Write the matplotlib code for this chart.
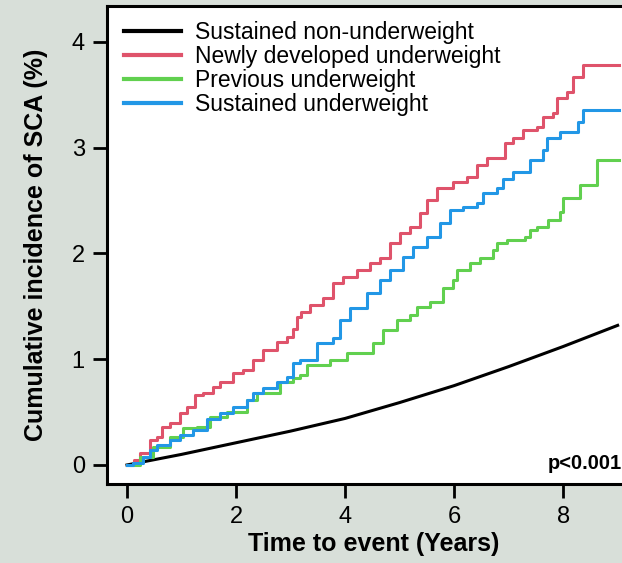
import matplotlib
matplotlib.use("Agg")
import matplotlib.pyplot as plt

plt.rcParams['font.family'] = ['Liberation Sans', 'DejaVu Sans']

# ## Data (years, cumulative incidence %)
labels = ['Sustained non-underweight', 'Newly developed underweight',
          'Previous underweight', 'Sustained underweight']
colors = ['black', '#DF536B', '#61D04F', '#2297E6']

black_t = [0, 1, 2, 3, 4, 5, 6, 7, 8, 8.5, 9.0]
black_y = [0, 0.1, 0.21, 0.32, 0.44, 0.59, 0.75, 0.93, 1.12, 1.22, 1.32]

red_t = [0, 0.12, 0.24, 0.42, 0.55, 0.64, 0.79, 0.97, 1.1, 1.25,
         1.39, 1.58, 1.71, 1.94, 2.13, 2.31, 2.5, 2.75, 2.94, 3.05,
         3.12, 3.2, 3.36, 3.6, 3.78, 3.96, 4.22, 4.46, 4.64, 4.83,
         5.01, 5.19, 5.38, 5.5, 5.69, 5.98, 6.24, 6.42, 6.61, 6.94,
         7.08, 7.27, 7.52, 7.63, 7.82, 7.89, 8.07, 8.18, 8.37, 9.03]
red_y = [0, 0.05, 0.11, 0.24, 0.26, 0.36, 0.40, 0.49, 0.55, 0.66,
         0.68, 0.74, 0.78, 0.87, 0.90, 0.99, 1.09, 1.16, 1.21, 1.29,
         1.40, 1.45, 1.51, 1.58, 1.72, 1.78, 1.84, 1.91, 1.96, 2.1,
         2.19, 2.25, 2.38, 2.51, 2.62, 2.68, 2.72, 2.84, 2.90, 3.04,
         3.09, 3.17, 3.2, 3.29, 3.33, 3.47, 3.53, 3.67, 3.78, 3.78]

green_t = [0, 0.24, 0.48, 0.79, 1.03, 1.28, 1.52, 1.83, 2.2, 2.39,
           2.81, 3.05, 3.17, 3.3, 3.72, 4.04, 4.51, 4.7, 4.95, 5.19,
           5.32, 5.56, 5.8, 5.98, 6.06, 6.29, 6.48, 6.72, 6.79, 6.97,
           7.3, 7.39, 7.52, 7.72, 7.94, 8.0, 8.31, 8.62, 9.03]
green_y = [0, 0.08, 0.17, 0.26, 0.35, 0.36, 0.45, 0.50, 0.61, 0.68,
           0.78, 0.82, 0.85, 0.95, 0.99, 1.06, 1.15, 1.28, 1.37, 1.42,
           1.49, 1.54, 1.67, 1.75, 1.84, 1.91, 1.96, 2.03, 2.1, 2.13,
           2.16, 2.22, 2.25, 2.32, 2.39, 2.52, 2.65, 2.88, 2.88]

blue_t = [0, 0.11, 0.29, 0.42, 0.55, 0.79, 0.97, 1.21, 1.47, 1.71,
          1.94, 2.2, 2.31, 2.5, 2.75, 2.94, 3.05, 3.17, 3.49, 3.78,
          3.91, 4.09, 4.4, 4.64, 4.83, 5.06, 5.25, 5.5, 5.74, 5.93,
          6.17, 6.42, 6.53, 6.79, 6.9, 7.08, 7.39, 7.63, 7.7, 7.94,
          8.28, 8.37, 9.03]
blue_y = [0, 0.02, 0.08, 0.14, 0.19, 0.24, 0.28, 0.33, 0.43, 0.49,
          0.55, 0.61, 0.68, 0.73, 0.78, 0.83, 0.96, 0.99, 1.15, 1.2,
          1.37, 1.48, 1.63, 1.75, 1.84, 1.97, 2.06, 2.16, 2.29, 2.41,
          2.44, 2.48, 2.57, 2.62, 2.7, 2.77, 2.88, 2.98, 3.09, 3.15,
          3.24, 3.36, 3.36]

x_ticks = [0, 2, 4, 6, 8]
y_ticks = [0, 1, 2, 3, 4]

# ## Plot
bg = '#d8dfd9'
fig = plt.figure(figsize=(6.22, 5.63), dpi=100, facecolor=bg)
# the original axes runs past the right edge of the picture
ax = fig.add_axes([107 / 622, 79 / 563, 533 / 622, 478 / 563])
ax.set_facecolor('white')

ax.plot(black_t, black_y, color=colors[0], linewidth=2.2, label=labels[0])
ax.plot(red_t, red_y, color=colors[1], linewidth=2.2, drawstyle='steps-post', label=labels[1])
ax.plot(green_t, green_y, color=colors[2], linewidth=2.2, drawstyle='steps-post', label=labels[2])
ax.plot(blue_t, blue_y, color=colors[3], linewidth=2.2, drawstyle='steps-post', label=labels[3])

ax.set_xlim(-0.367, 9.41)
ax.set_ylim(-0.18, 4.34)
ax.set_xticks(x_ticks)
ax.set_yticks(y_ticks)
ax.tick_params(direction='out', length=10, width=2, labelsize=17, pad=6)
for side in ['left', 'bottom', 'top', 'right']:
    ax.spines[side].set_linewidth(2.2)

ax.set_xlabel('Time to event (Years)', fontsize=18, fontweight='bold')
ax.set_ylabel('Cumulative incidence of SCA (%)', fontsize=18, fontweight='bold')
ax.xaxis.set_label_coords(0.5, -0.10)
ax.yaxis.set_label_coords(-0.11, 0.5)

ax.text(7.71, -0.04, 'p<0.001', fontsize=14.5, fontweight='bold', ha='left', va='baseline')

leg = ax.legend(loc='upper left', bbox_to_anchor=(0.032, 0.969), frameon=False,
                fontsize=16.5, handlelength=2.5, handletextpad=0.6,
                labelspacing=0.05, borderpad=0, borderaxespad=0)
for line in leg.get_lines():
    line.set_linewidth(3)

fig.savefig('out.png', dpi=100, facecolor=bg)
